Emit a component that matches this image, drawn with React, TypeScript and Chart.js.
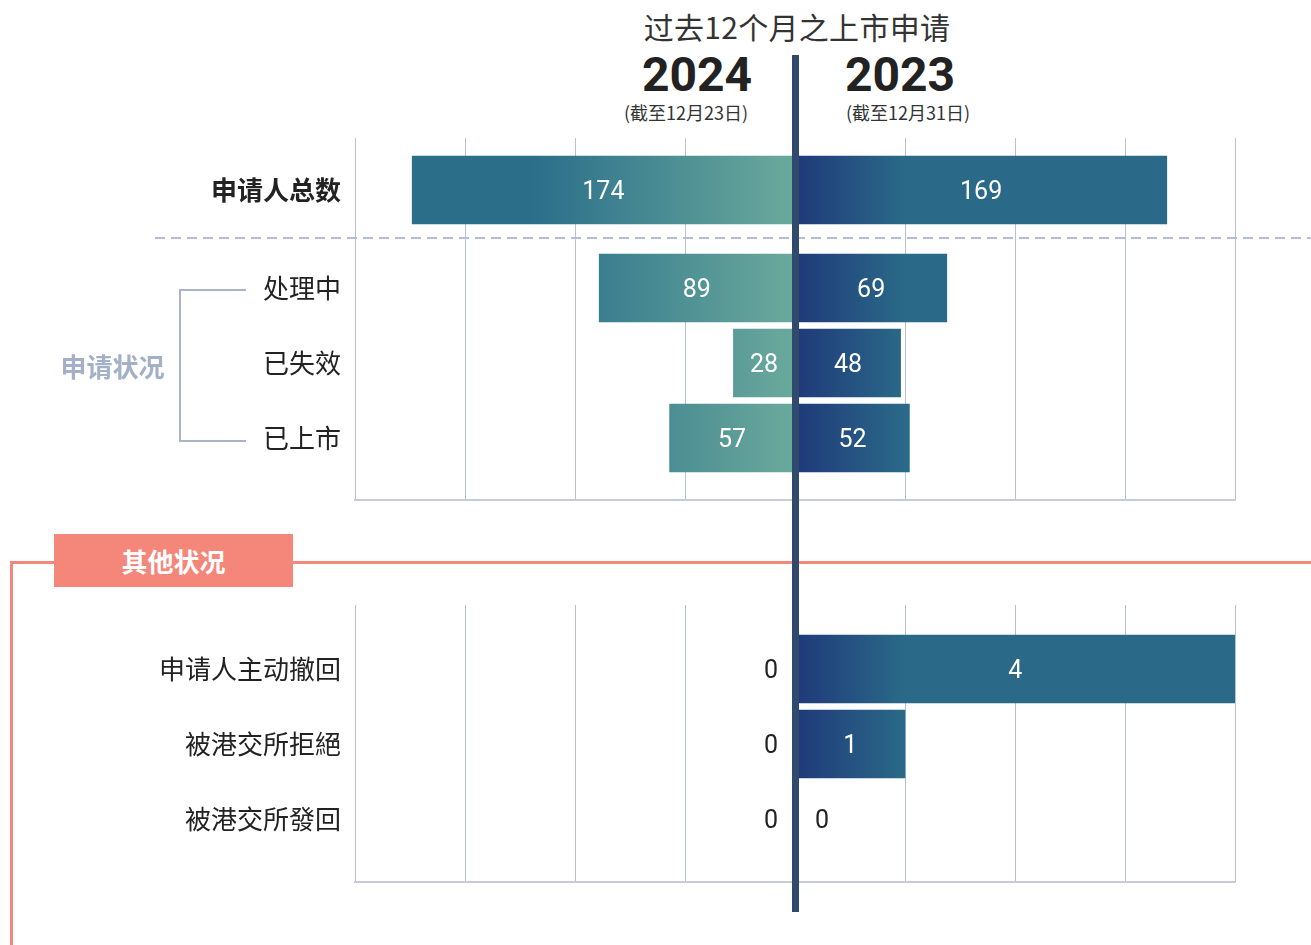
import React, { useEffect, useRef } from 'react';
import { Chart, registerables } from 'chart.js';

Chart.register(...registerables);

// ---------- texts ----------
const TITLE = '过去12个月之上市申请';
const YEAR_LEFT = '2024';
const YEAR_RIGHT = '2023';
const NOTE_LEFT = '(截至12月23日)';
const NOTE_RIGHT = '(截至12月31日)';
const GROUP_LABEL = '申请状况';
const OTHER_LABEL = '其他状况';

// ---------- data ----------
const totalLabels = ['申请人总数'];
const total2024 = [174];
const total2023 = [169];

const statusLabels = ['处理中', '已失效', '已上市'];
const status2024 = [89, 28, 57];
const status2023 = [69, 48, 52];

const otherLabels = ['申请人主动撤回', '被港交所拒絕', '被港交所發回'];
const other2024 = [0, 0, 0];
const other2023 = [4, 1, 0];

const topAxisMax = 200;
const topAxisStep = 50;
const otherAxisMax = 4;
const otherAxisStep = 1;

// ---------- styles ----------
const LEFT_DARK = '#2a6e8a';
const LEFT_LIGHT = '#69a99c';
const RIGHT_NAVY = '#1f3a7a';
const RIGHT_TEAL = '#2a6a88';
const GRID = '#b9c0d0';
const CJK = "'Noto Sans CJK SC', 'Noto Sans', sans-serif";
const NUM = "Roboto, 'Noto Sans', sans-serif";

const leftGradient = (ctx: any) => {
  const chart = ctx.chart;
  if (!chart.chartArea) return LEFT_LIGHT;
  const xs = chart.scales.x;
  const x0 = xs.getPixelForValue(0);
  const x1 = xs.getPixelForValue(xs.min * 0.6);
  const g = chart.ctx.createLinearGradient(x1, 0, x0 - 4, 0);
  g.addColorStop(0, LEFT_DARK);
  g.addColorStop(1, LEFT_LIGHT);
  return g;
};

const rightGradient = (ctx: any) => {
  const chart = ctx.chart;
  if (!chart.chartArea) return RIGHT_NAVY;
  const xs = chart.scales.x;
  const x0 = xs.getPixelForValue(0);
  const x1 = xs.getPixelForValue(xs.max * 0.25);
  const g = chart.ctx.createLinearGradient(x0 + 3, 0, x1, 0);
  g.addColorStop(0, RIGHT_NAVY);
  g.addColorStop(1, RIGHT_TEAL);
  return g;
};

const valueLabels = {
  id: 'valueLabels',
  afterDatasetsDraw(chart: any) {
    const ctx = chart.ctx;
    ctx.save();
    ctx.font = `400 25px ${NUM}`;
    ctx.textBaseline = 'middle';
    chart.data.datasets.forEach((ds: any, di: number) => {
      const meta = chart.getDatasetMeta(di);
      meta.data.forEach((bar: any, i: number) => {
        const v = Math.abs(ds.data[i].x);
        const { x, y, base } = bar.getProps(['x', 'y', 'base'], true);
        if (v === 0) {
          ctx.fillStyle = '#222222';
          if (di === 0) {
            ctx.textAlign = 'right';
            ctx.fillText('0', base - 17, y + 3);
          } else {
            ctx.textAlign = 'left';
            ctx.fillText('0', base + 20, y + 3);
          }
        } else {
          ctx.fillStyle = '#ffffff';
          ctx.textAlign = 'center';
          ctx.fillText(String(v), (x + base) / 2, y + 3);
        }
      });
    });
    ctx.restore();
  },
};

type PanelProps = {
  labels: string[];
  left: number[];
  right: number[];
  axisMax: number;
  step: number;
  yMin: number;
  yMax: number;
  top: number;
  height: number;
  padBottom: number;
  bold: boolean;
  border: boolean;
};

function Panel(p: PanelProps) {
  const ref = useRef<HTMLCanvasElement>(null);
  useEffect(() => {
    const chart = new Chart(ref.current as HTMLCanvasElement, {
      type: 'bar',
      data: {
        datasets: [
          {
            label: YEAR_LEFT,
            data: p.left.map((v, i) => ({ x: -v, y: i })),
            backgroundColor: leftGradient,
            borderWidth: 0,
            grouped: false,
            barThickness: 68,
          } as any,
          {
            label: YEAR_RIGHT,
            data: p.right.map((v, i) => ({ x: v, y: i })),
            backgroundColor: rightGradient,
            borderWidth: 0,
            grouped: false,
            barThickness: 68,
          } as any,
        ],
      },
      options: {
        indexAxis: 'y',
        responsive: false,
        animation: false,
        layout: { padding: { left: 0, right: 76, top: 0, bottom: p.padBottom } },
        plugins: { legend: { display: false }, tooltip: { enabled: false } },
        scales: {
          x: {
            type: 'linear',
            min: -p.axisMax,
            max: p.axisMax,
            ticks: { display: false, stepSize: p.step },
            grid: { color: GRID, lineWidth: 1, drawTicks: false },
            border: { display: p.border, color: '#c6cbd8', width: 2 },
          },
          y: {
            type: 'linear',
            reverse: true,
            bounds: 'data',
            offset: false,
            grace: 0,
            min: p.yMin,
            max: p.yMax,
            afterBuildTicks: (scale: any) => {
              scale.ticks = p.labels.map((_, i) => ({ value: i }));
            },
            afterFit: (scale: any) => {
              scale.width = 355;
              scale.paddingTop = 0;
              scale.paddingBottom = 0;
            },
            ticks: {
              autoSkip: false,
              padding: 14,
              color: '#222222',
              font: { family: CJK, size: 26, weight: p.bold ? 'bold' : 'normal' },
              callback: (v: any) => (p.labels[Math.round(v)] !== undefined ? p.labels[Math.round(v)] : ''),
            },
            grid: { display: false, drawTicks: false, offset: false },
            border: { display: false },
          },
        },
      } as any,
      plugins: [valueLabels],
    });
    return () => chart.destroy();
  }, []);
  return (
    <div style={{ position: 'absolute', left: 0, top: p.top, width: 1311, height: p.height }}>
      <canvas ref={ref} width={1311} height={p.height} style={{ display: 'block', width: 1311, height: p.height }} />
    </div>
  );
}

const abs = (s: React.CSSProperties): React.CSSProperties => ({ position: 'absolute', ...s });

export default function App() {
  return (
    <div style={abs({ left: 0, top: 0, width: 1311, height: 945, background: '#ffffff', overflow: 'hidden' })}>
      {/* headings */}
      <div style={abs({ left: 547, top: 11, width: 500, textAlign: 'center', fontFamily: CJK, fontSize: 30, lineHeight: '30px', color: '#333333', letterSpacing: 0.3 })}>
        {TITLE}
      </div>
      <div style={abs({ left: 597, top: 51, width: 200, textAlign: 'center', fontFamily: NUM, fontWeight: 700, fontSize: 48, lineHeight: '48px', color: '#222222' })}>
        {YEAR_LEFT}
      </div>
      <div style={abs({ left: 800, top: 51, width: 200, textAlign: 'center', fontFamily: NUM, fontWeight: 700, fontSize: 48, lineHeight: '48px', color: '#222222' })}>
        {YEAR_RIGHT}
      </div>
      <div style={abs({ left: 586, top: 103, width: 200, textAlign: 'center', fontFamily: CJK, fontSize: 18, lineHeight: '18px', color: '#333333' })}>
        {NOTE_LEFT}
      </div>
      <div style={abs({ left: 808, top: 103, width: 200, textAlign: 'center', fontFamily: CJK, fontSize: 18, lineHeight: '18px', color: '#333333' })}>
        {NOTE_RIGHT}
      </div>

      {/* charts */}
      <Panel labels={totalLabels} left={total2024} right={total2023} axisMax={topAxisMax} step={topAxisStep}
        yMin={-0.693} yMax={0.653} top={138} height={101} padBottom={0} bold={true} border={false} />
      <Panel labels={statusLabels} left={status2024} right={status2023} axisMax={topAxisMax} step={topAxisStep}
        yMin={-0.653} yMax={2.827} top={239} height={264} padBottom={3} bold={false} border={true} />
      <Panel labels={otherLabels} left={other2024} right={other2023} axisMax={otherAxisMax} step={otherAxisStep}
        yMin={-0.853} yMax={2.84} top={605} height={280} padBottom={3} bold={false} border={true} />

      {/* dashed separator */}
      <div style={abs({ left: 155, top: 237, width: 1156, height: 1.5, background: 'repeating-linear-gradient(to right, #b3bcd9 0 10px, transparent 10px 16px)' })} />

      {/* group bracket */}
      <div style={abs({ left: 179, top: 289, width: 67, height: 2, background: '#a9b4c8' })} />
      <div style={abs({ left: 179, top: 289, width: 2, height: 153, background: '#a9b4c8' })} />
      <div style={abs({ left: 179, top: 440, width: 67, height: 2, background: '#a9b4c8' })} />
      <div style={abs({ left: 40, top: 352, width: 145, textAlign: 'center', fontFamily: CJK, fontWeight: 700, fontSize: 26, lineHeight: '28px', color: '#a3b0c8' })}>
        {GROUP_LABEL}
      </div>

      {/* other status frame */}
      <div style={abs({ left: 10, top: 561, width: 1301, height: 3, background: '#f4877a' })} />
      <div style={abs({ left: 10, top: 561, width: 3, height: 384, background: '#f4877a' })} />
      <div style={abs({ left: 54, top: 534, width: 239, height: 53, background: '#f4877a', color: '#ffffff', textAlign: 'center', fontFamily: CJK, fontWeight: 700, fontSize: 26, lineHeight: '53px' })}>
        {OTHER_LABEL}
      </div>

      {/* center axis line */}
      <div style={abs({ left: 792, top: 55, width: 7, height: 857, background: '#304a6e' })} />
    </div>
  );
}
